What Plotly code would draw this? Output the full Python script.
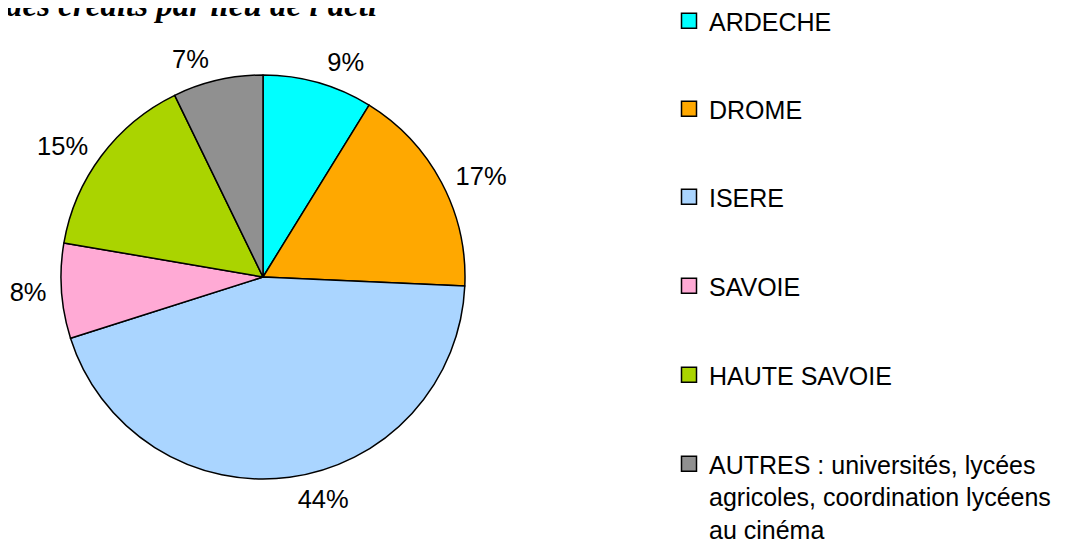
import plotly.graph_objects as go

labels = ["ARDECHE", "DROME", "ISERE", "SAVOIE", "HAUTE SAVOIE",
          "AUTRES : universités, lycées<br>agricoles, coordination lycéens<br>au cinéma"]
values = [8.8, 16.9, 44.4, 7.6, 15.1, 7.2]
colors = ["#00FFFF", "#FFA800", "#AAD5FF", "#FFAAD5", "#AAD400", "#909090"]
title_text = "des crédits par lieu de l'acti"

W, H = 1065, 539
FONT = "Liberation Sans, Arial, sans-serif"
legend_tops = [-10, 78, 166, 255, 344, 433]  # pixel top of each legend box

fig = go.Figure()
# transparent, slightly larger pie that only carries the outside percentage labels
fig.add_trace(go.Pie(
    labels=labels, values=values, sort=False, direction="clockwise", rotation=0,
    marker=dict(colors=["rgba(0,0,0,0)"] * len(values), line=dict(width=0)),
    textposition="outside", texttemplate="%{percent:.0%}",
    textfont=dict(family=FONT, size=25.5, color="black"),
    showlegend=False, hoverinfo="skip",
    domain=dict(x=[45 / W, 465 / W], y=[1 - 479 / H, 1 - 59 / H]),
))
fig.add_trace(go.Pie(
    labels=labels, values=values, sort=False, direction="clockwise", rotation=0,
    marker=dict(colors=colors, line=dict(color="black", width=1.5)),
    textinfo="none", showlegend=False, hoverinfo="label+percent",
    domain=dict(x=[53 / W, 457 / W], y=[1 - 471 / H, 1 - 67 / H]),
))

leg_font = dict(family=FONT, size=25, color="black")
legend_layout = {}
for i, (lab, col) in enumerate(zip(labels, colors)):
    name = "legend" if i == 0 else f"legend{i + 1}"
    fig.add_trace(go.Scatter(
        x=[None], y=[None], mode="markers", name=lab, legend=name,
        marker=dict(symbol="square", size=15, color=col, line=dict(color="black", width=1.5)),
        showlegend=True,
    ))
    legend_layout[name] = dict(x=661 / W, xanchor="left", y=1 - legend_tops[i] / H,
                               yanchor="top", valign="top", font=leg_font,
                               bgcolor="rgba(0,0,0,0)")

fig.add_annotation(
    text=title_text, xref="paper", yref="paper", x=-4 / W, y=1 - 17 / H,
    xanchor="left", yanchor="bottom", showarrow=False,
    font=dict(family="Liberation Serif, Times New Roman, serif", size=33, color="black",
              style="italic", weight="bold"),
)

fig.update_layout(
    width=W, height=H, margin=dict(l=0, r=0, t=0, b=0, autoexpand=False),
    paper_bgcolor="white", plot_bgcolor="white",
    xaxis=dict(visible=False), yaxis=dict(visible=False),
    **legend_layout,
)

fig.write_html("out.html")
